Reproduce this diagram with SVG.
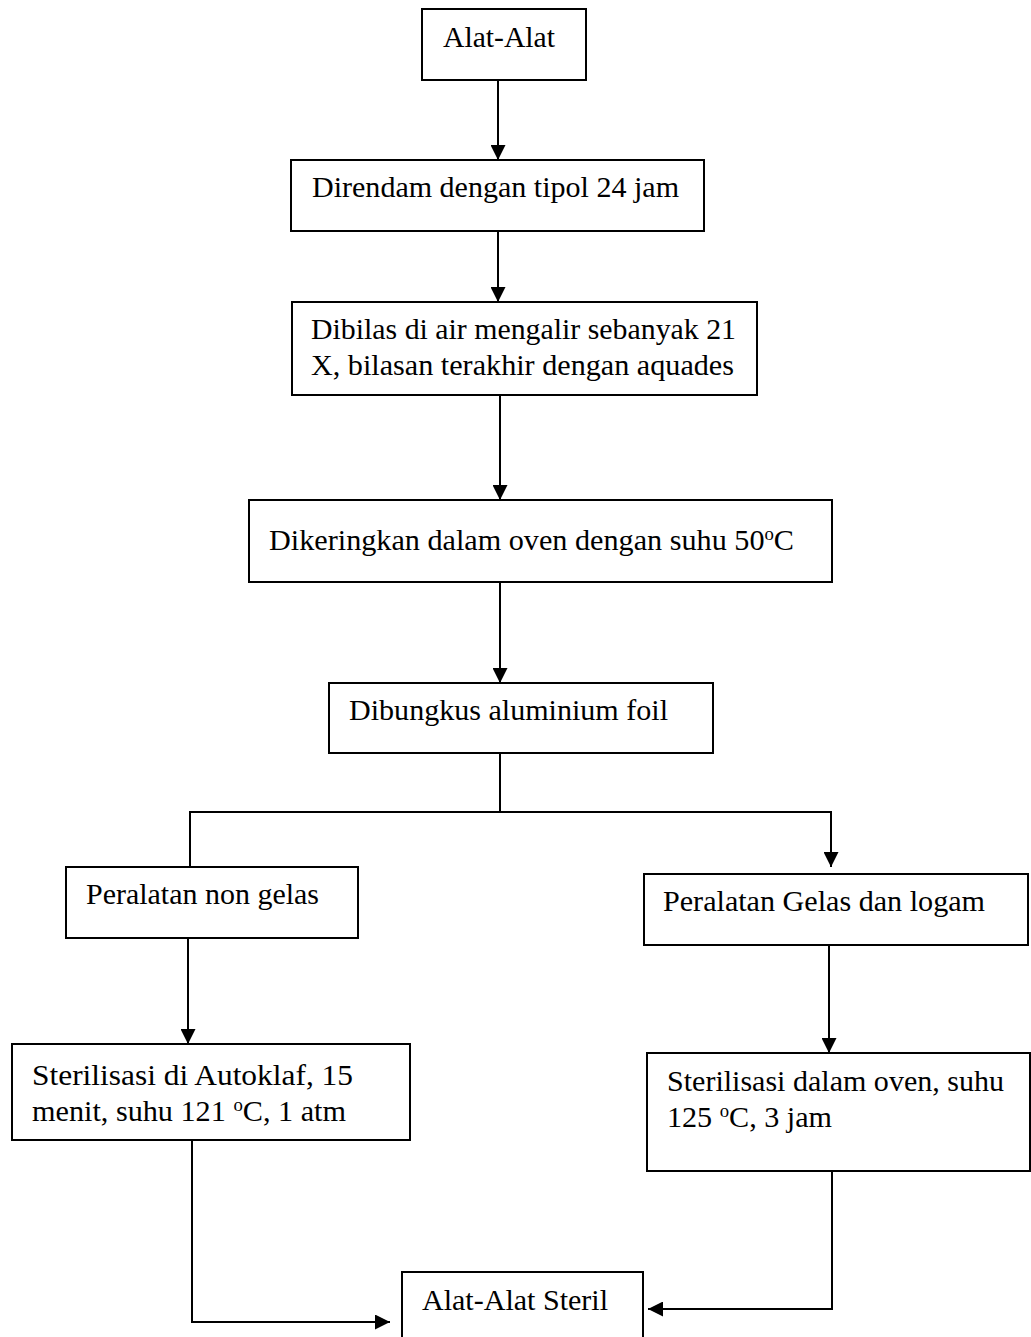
<svg xmlns="http://www.w3.org/2000/svg" width="1031" height="1337" viewBox="0 0 1031 1337">
<style>
.box{fill:#fff;stroke:#000;stroke-width:2}
.t{font-family:'Liberation Serif','Times New Roman',serif;font-size:29px;fill:#000}
.sup{font-size:18px}
.c{fill:none;stroke:#000;stroke-width:2}
</style>
<defs>
<marker id="ah" markerUnits="userSpaceOnUse" markerWidth="15" markerHeight="15" refX="15" refY="7.5" orient="auto">
<path d="M0,0 L15,7.5 L0,15 Z" fill="#000"/>
</marker>
</defs>
<g id="connectors">
<line class="c" x1="498" y1="80" x2="498" y2="160" marker-end="url(#ah)"/>
<line class="c" x1="498" y1="231" x2="498" y2="302" marker-end="url(#ah)"/>
<line class="c" x1="500" y1="395" x2="500" y2="500" marker-end="url(#ah)"/>
<line class="c" x1="500" y1="582" x2="500" y2="683" marker-end="url(#ah)"/>
<polyline class="c" points="500,753 500,812"/>
<polyline class="c" points="190,867 190,812 831,812 831,867" marker-start="url(#ah)" marker-end="url(#ah)"/>
<line class="c" x1="188" y1="938" x2="188" y2="1044" marker-end="url(#ah)"/>
<line class="c" x1="829" y1="945" x2="829" y2="1053" marker-end="url(#ah)"/>
<polyline class="c" points="192,1140 192,1322 390,1322" marker-end="url(#ah)"/>
<polyline class="c" points="832,1171 832,1309 648,1309" marker-end="url(#ah)"/>
</g>
<g id="n1"><rect class="box" x="422" y="9" width="164" height="71"/><text class="t" x="443" y="47" textLength="112" lengthAdjust="spacingAndGlyphs">Alat-Alat</text></g>
<g id="n2"><rect class="box" x="291" y="160" width="413" height="71"/><text class="t" x="312" y="197" textLength="367" lengthAdjust="spacingAndGlyphs">Direndam dengan tipol 24 jam</text></g>
<g id="n3"><rect class="box" x="292" y="302" width="465" height="93"/><text class="t" x="311" y="339" textLength="425" lengthAdjust="spacingAndGlyphs">Dibilas di air mengalir sebanyak 21</text><text class="t" x="311" y="375" textLength="423" lengthAdjust="spacingAndGlyphs">X, bilasan terakhir dengan aquades</text></g>
<g id="n4"><rect class="box" x="249" y="500" width="583" height="82"/><text class="t" x="269" y="550" textLength="525" lengthAdjust="spacingAndGlyphs">Dikeringkan dalam oven dengan suhu 50<tspan class="sup" dy="-10">o</tspan><tspan dy="10">C</tspan></text></g>
<g id="n5"><rect class="box" x="329" y="683" width="384" height="70"/><text class="t" x="349" y="720" textLength="319" lengthAdjust="spacingAndGlyphs">Dibungkus aluminium foil</text></g>
<g id="n6"><rect class="box" x="66" y="867" width="292" height="71"/><text class="t" x="86" y="904" textLength="233" lengthAdjust="spacingAndGlyphs">Peralatan non gelas</text></g>
<g id="n7"><rect class="box" x="644" y="874" width="384" height="71"/><text class="t" x="663" y="911" textLength="322" lengthAdjust="spacingAndGlyphs">Peralatan Gelas dan logam</text></g>
<g id="n8"><rect class="box" x="12" y="1044" width="398" height="96"/><text class="t" x="32" y="1085" textLength="321" lengthAdjust="spacingAndGlyphs">Sterilisasi di Autoklaf, 15</text><text class="t" x="32" y="1121" textLength="314" lengthAdjust="spacingAndGlyphs">menit, suhu 121 <tspan class="sup" dy="-10">o</tspan><tspan dy="10">C, 1 atm</tspan></text></g>
<g id="n9"><rect class="box" x="647" y="1053" width="383" height="118"/><text class="t" x="667" y="1091" textLength="337" lengthAdjust="spacingAndGlyphs">Sterilisasi dalam oven, suhu</text><text class="t" x="667" y="1127" textLength="165" lengthAdjust="spacingAndGlyphs">125 <tspan class="sup" dy="-10">o</tspan><tspan dy="10">C, 3 jam</tspan></text></g>
<g id="n10"><path class="box" d="M402,1337 L402,1272 L643,1272 L643,1337"/><text class="t" x="422" y="1310" textLength="186" lengthAdjust="spacingAndGlyphs">Alat-Alat Steril</text></g>
</svg>
